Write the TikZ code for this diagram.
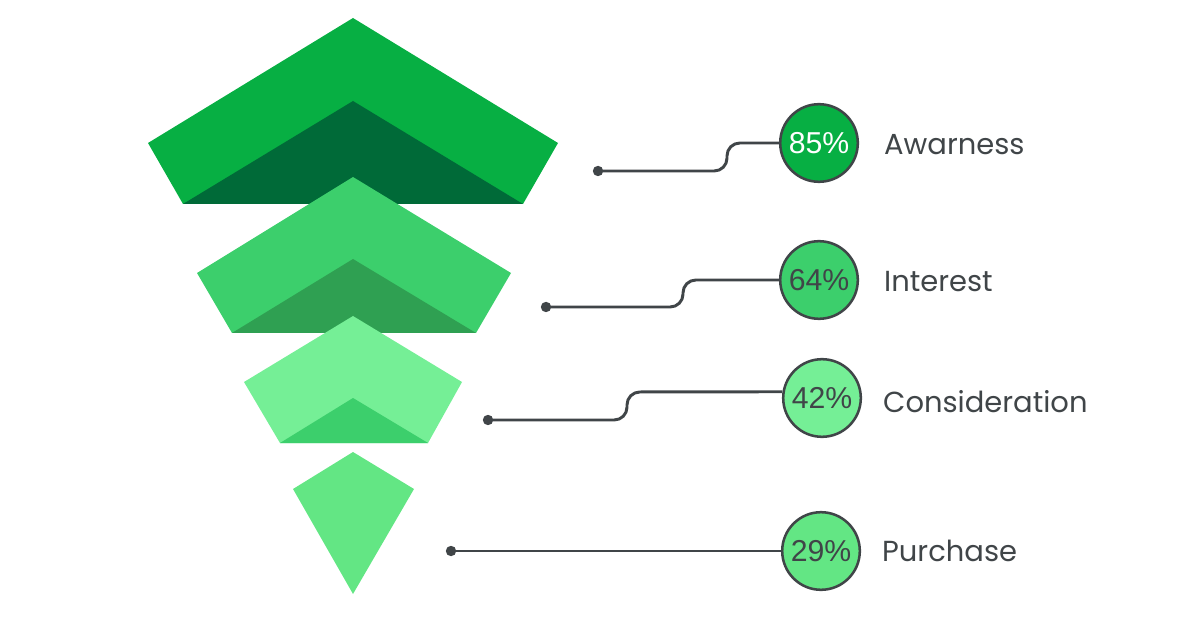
\documentclass[tikz,border=0pt]{standalone}
\usepackage{fontspec}
\setmainfont{Poppins}
\newfontfamily\pctfont{Liberation Sans}
\usetikzlibrary{positioning}
\definecolor{topgreen}{HTML}{07AF43}
\definecolor{topdark}{HTML}{006A38}
\definecolor{midgreen}{HTML}{3CCF6C}
\definecolor{middark}{HTML}{2FA052}
\definecolor{lowgreen}{HTML}{75EF96}
\definecolor{tipgreen}{HTML}{63E684}
\definecolor{inkgray}{HTML}{404548}
\tikzset{
  pct/.style={circle,draw=inkgray,line width=1.8pt,minimum size=1.94cm,inner sep=0pt,
    text=inkgray,font=\pctfont\fontsize{21.5}{21.5}\selectfont},
  stage/.style={inner sep=0pt,text=inkgray,font=\fontsize{20.6}{20.6}\selectfont},
  leader/.style={draw=inkgray,line width=2.1pt,rounded corners=0.32cm}
}

\begin{document}
\begin{tikzpicture}[x=0.025cm,y=-0.025cm]
\useasboundingbox (0,0) rectangle (1200,628);
% funnel
\fill[topgreen] (353,18) -- (558,143) -- (523,204) -- (183,204) -- (148,143) -- cycle;
\fill[topdark] (353,101) -- (523,204) -- (183,204) -- cycle;
\fill[midgreen] (353,177) -- (511,273) -- (476,333) -- (232,333) -- (197,273) -- cycle;
\fill[middark] (353,259) -- (476,333) -- (232,333) -- cycle;
\fill[lowgreen] (353,316) -- (462,382) -- (428,443) -- (280,443) -- (244,382) -- cycle;
\fill[midgreen] (353,398) -- (428,443) -- (280,443) -- cycle;
\fill[tipgreen] (353,452) -- (414,489) -- (353,594) -- (293,489) -- cycle;
% values
\node[pct,fill=topgreen,text=white] (awp) at (819,143) {85\%};
\node[pct,fill=midgreen] (inp) at (819,280) {64\%};
\node[pct,fill=lowgreen] (cop) at (822,398) {42\%};
\node[pct,fill=tipgreen] (pup) at (821,551) {29\%};
\node[stage,right=0.62cm of awp,yshift=-0.05cm] (aw) {Awarness};
\node[stage,right=0.62cm of inp,yshift=-0.05cm] (in) {Interest};
\node[stage,right=0.52cm of cop,yshift=-0.08cm] (co) {Consideration};
\node[stage,right=0.52cm of pup] (pu) {Purchase};
% leaders
\fill[inkgray] (598,171) coordinate(a) circle (0.13cm)
               (546,307) coordinate(b) circle (0.13cm)
               (488,420) coordinate(c) circle (0.13cm)
               (451,551) coordinate(d) circle (0.13cm);
\draw[leader] (a) -- (727,171) -- (727,143) -- (awp);
\draw[leader] (b) -- (683,307) -- (683,280) -- (inp);
\draw[leader] (c) -- (627,420) -- (627,392) -- (cop.171);
\draw[leader] (d) -- (pup);
\end{tikzpicture}
\end{document}
